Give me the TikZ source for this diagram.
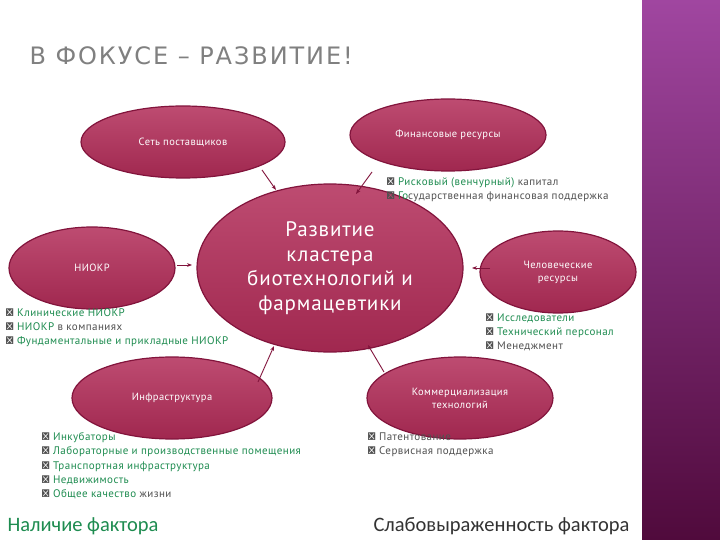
\documentclass[tikz,border=0pt]{standalone}
\usepackage{fontspec}
\setmainfont{Carlito}
\newfontfamily\lf[LetterSpace=4]{PT Sans}
\newfontfamily\tf[LetterSpace=8]{DejaVu Sans}
\usetikzlibrary{shapes.geometric,arrows.meta}
\definecolor{ell}{RGB}{178,44,88}
\definecolor{elldraw}{RGB}{130,20,60}
\definecolor{gr}{RGB}{30,140,80}
\definecolor{tx}{RGB}{80,80,80}
\definecolor{band1}{RGB}{160,70,160}
\definecolor{band2}{RGB}{80,10,60}
\newcommand{\gb}[1]{\textcolor{gr}{#1}}
\begin{document}
\begin{tikzpicture}[x=1pt,y=-1pt,
  bub/.style={ellipse,draw=elldraw,line width=1.2pt,top color=ell!85!white,bottom color=ell!90!black,text=white,font=\lf\fontsize{10.5}{13}\selectfont,align=center,inner sep=0pt},
  lst/.style={anchor=north west,align=left,text=tx,font=\lf\fontsize{11}{14.3}\selectfont},
  arr/.style={-{Stealth[length=5pt]},draw=elldraw,line width=0.9pt}]
\useasboundingbox (0,0) rectangle (720,540);
\fill[white] (0,0) rectangle (720,540);
\shade[top color=band1,bottom color=band2] (642,0) rectangle (720,540);
\node[anchor=west,text=gray,font=\tf\fontsize{24}{28}\selectfont] (title) at (26,56) {В ФОКУСЕ – РАЗВИТИЕ!};
\node[bub,minimum width=204pt,minimum height=72pt] (sup) at (183,142) {Сеть поставщиков};
\node[bub,minimum width=196pt,minimum height=72pt] (fin) at (448,135) {Финансовые ресурсы};
\node[bub,minimum width=166pt,minimum height=82pt] (nir) at (92,268) {НИОКР};
\node[bub,minimum width=266pt,minimum height=168pt,font=\lf\fontsize{21}{24.5}\selectfont] (c) at (330,268) {Развитие\\кластера\\биотехнологий и\\фармацевтики};
\node[bub,minimum width=156pt,minimum height=82pt] (hum) at (558,272) {Человеческие\\ресурсы};
\node[bub,minimum width=200pt,minimum height=82pt] (inf) at (172,398) {Инфраструктура};
\node[bub,minimum width=186pt,minimum height=82pt] (com) at (460,398) {Коммерциализация\\технологий};
\coordinate (a1) at (262,170); \coordinate (b1) at (276,190);
\coordinate (a2) at (372,172); \coordinate (b2) at (356,194);
\coordinate (a3) at (177,265); \coordinate (b3) at (192,265);
\coordinate (a4) at (490,268); \coordinate (b4) at (472,268);
\coordinate (a5) at (258,382); \coordinate (b5) at (274,346);
\coordinate (a6) at (384,372); \coordinate (b6) at (368,345);
\foreach \i in {1,...,6} \draw[arr] (a\i) -- (b\i);
\node[lst] (lf) at (383,174) {▪ \gb{Рисковый (венчурный)} капитал\\▪ \gb{Го}сударственная финансовая поддержка};
\node[lst] (ln) at (2,305) {▪ \gb{Клинические НИОКР}\\▪ \gb{НИОКР} в компаниях\\▪ \gb{Фундаментальные и прикладные НИОКР}};
\node[lst] (lh) at (482,310) {▪ \gb{Исследователи}\\▪ \gb{Технический персонал}\\▪ Менеджмент};
\node[lst] (li) at (38,429) {▪ \gb{Инкубаторы}\\▪ \gb{Лабораторные и производственные помещения}\\▪ \gb{Транспортная инфраструктура}\\▪ \gb{Недвижимость}\\▪ \gb{Общее качество} жизни};
\node[lst] (lc) at (364,429) {▪ Патентование\\▪ Сервисная поддержка};
\node[anchor=west,text=gr,font=\fontsize{20.5}{24}\selectfont] (p1) at (4,526) {Наличие фактора};
\node[anchor=west,text=black!80,font=\fontsize{20.5}{24}\selectfont] (p2) at (370,526) {Слабовыраженность фактора};
\end{tikzpicture}
\end{document}
